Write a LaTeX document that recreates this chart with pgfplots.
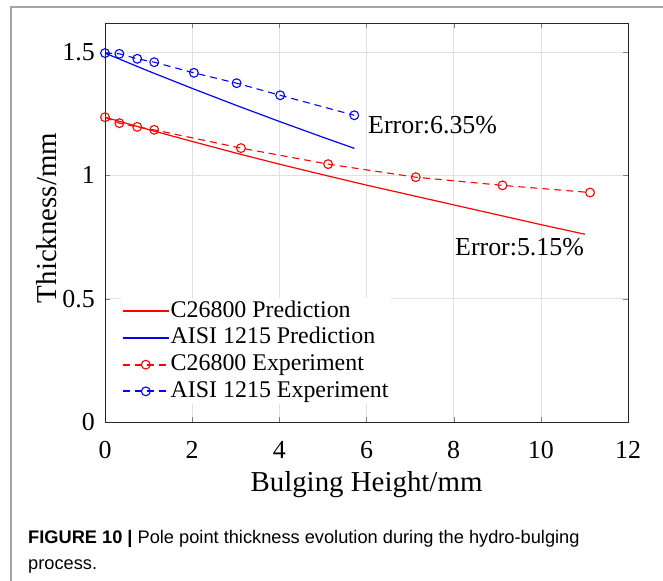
\documentclass[border=0pt]{standalone}
\usepackage{pgfplots}
\pgfplotsset{compat=1.18}
\usepackage{fontspec}
\setmainfont{Liberation Serif}
\newfontfamily\capfont{Liberation Sans}
\definecolor{gridgray}{RGB}{225,225,225}
\definecolor{framegray}{RGB}{165,165,165}
\begin{document}
\begin{tikzpicture}[x=1bp,y=1bp]
\useasboundingbox (0,0) rectangle (663,581);
\draw[framegray, line width=2bp] (11,-20) -- (11,574) -- (700,574);
\begin{axis}[
  at={(105bp,159bp)}, anchor=south west,
  scale only axis, width=523bp, height=398.5bp,
  xmin=0, xmax=12, ymin=0, ymax=1.615,
  xtick={0,2,...,12}, ytick={0,0.5,1,1.5},
  grid=major, major grid style={gridgray, line width=0.6bp},
  tick align=inside, major tick length=5bp,
  axis line style={black!85, line width=0.7bp},
  /pgf/number format/assume math mode=true,
  tick label style={font=\fontsize{26}{30}\selectfont},
  xticklabel style={anchor=center, yshift=-28bp},
  yticklabel style={anchor=east, inner sep=0pt, xshift=-10bp},
  xlabel={Bulging Height/mm}, ylabel={Thickness/mm},
  label style={font=\fontsize{29}{33}\selectfont},
  x label style={at={(axis description cs:0.5,-0.156)}, anchor=center},
  y label style={at={(axis description cs:-0.111,0.512)}, anchor=center},
  legend style={at={(axis description cs:0.03,0.311)}, anchor=north west,
    draw=none, fill=white, font=\fontsize{24}{26}\selectfont,
    row sep=2.7bp, inner sep=1bp,
    nodes={inner sep=1bp, text height=17bp, text depth=5bp}},
  legend cell align=left,
  legend image code/.code={\draw[mark repeat=2,mark phase=2,line width=1.8bp] plot coordinates {(0bp,0bp) (23bp,0bp) (46bp,0bp)};},
]
\addplot[color=red, line width=1.2bp] coordinates {
(0,1.235) (1,1.185) (2,1.137) (3,1.090) (4,1.045) (5,1.002) (6,0.960) (7,0.920) (8,0.880) (9,0.840) (10,0.800) (11.01,0.761)};
\addlegendentry{C26800 Prediction}
\addplot[color=blue, line width=1.2bp] coordinates {
(0,1.495) (1,1.422) (2,1.352) (3,1.284) (4,1.218) (5,1.154) (5.72,1.109)};
\addlegendentry{AISI 1215 Prediction}
\addplot[color=red, line width=1.1bp, dash pattern=on 7bp off 5bp, mark=o, mark size=4.4bp, mark options={solid, line width=1.1bp}] coordinates {
(0,1.235) (0.33,1.211) (0.74,1.196) (1.13,1.184) (3.12,1.110) (5.12,1.045) (7.13,0.992) (9.12,0.959) (11.13,0.930)};
\addlegendentry{C26800 Experiment}
\addplot[color=blue, line width=1.1bp, dash pattern=on 7bp off 5bp, mark=o, mark size=4.4bp, mark options={solid, line width=1.1bp}] coordinates {
(0,1.495) (0.33,1.492) (0.74,1.472) (1.13,1.458) (2.04,1.415) (3.02,1.373) (4.02,1.324) (5.72,1.243)};
\addlegendentry{AISI 1215 Experiment}
\node[anchor=west, font=\fontsize{26}{30}\selectfont, inner sep=0] at (axis cs:6.035,1.204) {Error:6.35\%};
\node[anchor=west, font=\fontsize{26}{30}\selectfont, inner sep=0] at (axis cs:8.03,0.709) {Error:5.15\%};
\end{axis}
\node[anchor=base west, inner sep=0, font=\capfont\fontsize{18.3}{20}\selectfont] at (28,37) {\textbf{FIGURE 10 |} Pole point thickness evolution during the hydro-bulging};
\node[anchor=base west, inner sep=0, font=\capfont\fontsize{18.3}{20}\selectfont] at (28,11) {process.};
\end{tikzpicture}
\end{document}
